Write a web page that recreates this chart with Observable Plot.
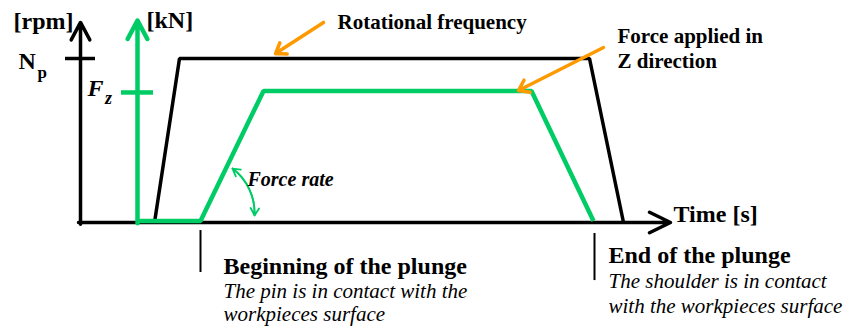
<!DOCTYPE html>
<html><head><meta charset="utf-8">
<script src="https://cdn.jsdelivr.net/npm/d3@7"></script>
<script src="https://cdn.jsdelivr.net/npm/@observablehq/plot@0.6"></script>
<style>body{margin:0;background:#fff}svg{display:block}</style>
</head><body><div id="chart"></div>
<script>
// Schematic time axis (arbitrary s) and normalized levels (Np = 1)
const rpmTimes = [7.4, 9.9, 50.9, 54.3];
const rpmLevels = [0, 1, 1, 0];
const forceTimes = [5.7, 12.0, 18.3, 45.1, 51.3];
const forceLevels = [0, 0, 0.793, 0.793, 0];
const Np = 1;
const Fz = 0.793;
const plungeStart = 12.0;
const plungeEnd = 51.4;
const timeEnd = 59.0;
const axisLabels = ["[rpm]", "[kN]", "Time [s]"];
const seriesLabels = ["Rotational frequency", "Force applied in\nZ direction"];
const rateLabel = ["Force rate"];
const eventTitles = ["Beginning of the plunge", "End of the plunge"];
const eventNotes = ["The pin is in contact with the\nworkpieces surface", "The shoulder is in contact\nwith the workpieces surface"];

const BLACK = "#000", GREEN = "#00CC66", ORANGE = "#FF9900";
const FONT = "Liberation Serif, Tinos, Times New Roman, Times, Noto Serif, DejaVu Serif, serif";
const rpm = rpmTimes.map((t, i) => ({t, v: rpmLevels[i]}));
const force = forceTimes.map((t, i) => ({t, v: forceLevels[i]}));
const txt = (data, o) => Plot.text(data, {text: d => d, fontFamily: FONT, textAnchor: "start", lineAnchor: "bottom", fill: BLACK, ...o});

const chart = Plot.plot({
  width: 859, height: 326, margin: 0,
  style: {fontFamily: FONT},
  x: {domain: [-8, 77.9], axis: null},
  y: {domain: [-0.6341, 1.3537], axis: null},
  marks: [
    // time axis and rpm axis
    Plot.arrow([0], {x1: -0.2, x2: timeEnd, y1: 0, y2: 0, stroke: BLACK, strokeWidth: 3.5, headLength: 10, headAngle: 52}),
    Plot.arrow([0], {x1: 0, x2: 0, y1: -0.01, y2: 1.22, stroke: BLACK, strokeWidth: 3.5, headLength: 8.5, headAngle: 56}),
    Plot.ruleY([Np], {x1: -1.5, x2: 1.5, stroke: BLACK, strokeWidth: 3.5}),
    // rotational frequency profile
    Plot.line(rpm, {x: "t", y: "v", stroke: BLACK, strokeWidth: 3.5, strokeLinejoin: "miter", strokeLinecap: "butt"}),
    // force axis
    Plot.arrow([0], {x1: forceTimes[0], x2: forceTimes[0], y1: -0.005, y2: 1.232, stroke: GREEN, strokeWidth: 4.5, headLength: 7, headAngle: 56}),
    Plot.ruleY([Fz], {x1: 4.1, x2: 7.3, stroke: GREEN, strokeWidth: 4.5}),
    // force profile
    Plot.line(force, {x: "t", y: "v", dy: -1.5, stroke: GREEN, strokeWidth: 4.5, strokeLinejoin: "miter", strokeLinecap: "butt"}),
    // force rate double arrow
    Plot.arrow([0], {x1: 15.2, y1: 0.329, x2: 17.4, y2: 0.043, bend: 28, stroke: GREEN, strokeWidth: 1.8, headLength: 7, headAngle: 60}),
    Plot.arrow([0], {x1: 17.4, y1: 0.043, x2: 15.2, y2: 0.329, bend: -28, stroke: GREEN, strokeWidth: 1.8, headLength: 7, headAngle: 60}),
    // orange pointers
    Plot.arrow([0], {x1: 24.3, y1: 1.22, x2: 19.5, y2: 1.03, stroke: ORANGE, strokeWidth: 3.5, headLength: 5, headAngle: 70}),
    Plot.arrow([0], {x1: 52.3, y1: 1.067, x2: 43.8, y2: 0.805, stroke: ORANGE, strokeWidth: 3.5, headLength: 5, headAngle: 70}),
    // plunge event ticks
    Plot.ruleX([plungeStart], {y1: -0.049, y2: -0.305, stroke: BLACK, strokeWidth: 2}),
    Plot.ruleX([plungeEnd], {y1: -0.067, y2: -0.354, stroke: BLACK, strokeWidth: 2}),
    // axis labels
    txt([axisLabels[0]], {x: -6.7, y: 1.177, fontSize: 24, fontWeight: "bold"}),
    txt([axisLabels[1]], {x: 6.6, y: 1.183, fontSize: 24, fontWeight: "bold"}),
    txt([axisLabels[2]], {x: 59.3, y: 0.006, fontSize: 24, fontWeight: "bold"}),
    txt(["N"], {x: -6.2, y: 0.933, fontSize: 24, fontWeight: "bold"}),
    txt(["p"], {x: -4.3, y: 0.884, fontSize: 17, fontWeight: "bold"}),
    txt(["F"], {x: 0.7, y: 0.774, fontSize: 24, fontWeight: "bold", fontStyle: "italic"}),
    txt(["z"], {x: 2.45, y: 0.72, fontSize: 18, fontWeight: "bold", fontStyle: "italic"}),
    // series labels
    txt([seriesLabels[0]], {x: 25.7, y: 1.177, fontSize: 21, fontWeight: "bold"}),
    txt([seriesLabels[1]], {x: 53.7, y: 0.945, fontSize: 21, fontWeight: "bold", lineHeight: 1.19}),
    txt(rateLabel, {x: 16.7, y: 0.22, fontSize: 20, fontWeight: "bold", fontStyle: "italic"}),
    // event annotations
    txt([eventTitles[0]], {x: 14.3, y: -0.317, fontSize: 24, fontWeight: "bold"}),
    txt([eventNotes[0]], {x: 14.3, y: -0.600, fontSize: 21, fontStyle: "italic", lineHeight: 1.1}),
    txt([eventTitles[1]], {x: 52.8, y: -0.244, fontSize: 24, fontWeight: "bold"}),
    txt([eventNotes[1]], {x: 52.8, y: -0.549, fontSize: 21, fontStyle: "italic", lineHeight: 1.17})
  ]
});
document.getElementById("chart").appendChild(chart);
</script>
</body></html>
